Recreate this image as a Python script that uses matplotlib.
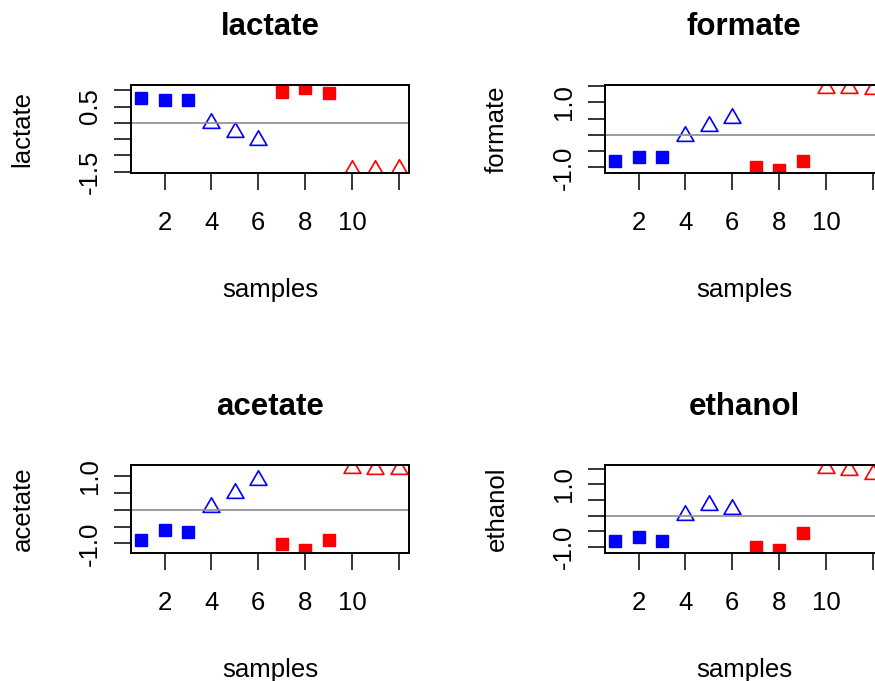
import numpy as np
import matplotlib.pyplot as plt
from matplotlib.path import Path

plt.rcParams['font.family'] = ['Liberation Sans', 'DejaVu Sans']

samples = np.arange(1, 13)
# group of each sample: blue squares, blue triangles, red squares, red triangles
colours = ['#0000ff'] * 6 + ['#ff0000'] * 6
filled = [True] * 3 + [False] * 3 + [True] * 3 + [False] * 3

lactate = [0.75, 0.70, 0.70, 0.00, -0.29, -0.52, 0.95, 1.06, 0.90, -1.44, -1.44, -1.43]
formate = [-0.80, -0.69, -0.69, -0.04, 0.27, 0.51, -0.99, -1.07, -0.80, 1.43, 1.43, 1.42]
acetate = [-0.89, -0.61, -0.67, 0.08, 0.50, 0.90, -1.02, -1.19, -0.89, 1.24, 1.23, 1.23]
ethanol = [-0.80, -0.68, -0.80, 0.02, 0.33, 0.21, -1.01, -1.09, -0.55, 1.52, 1.47, 1.34]

xticks = [2, 4, 6, 8, 10, 12]
xticklabels = ['2', '4', '6', '8', '10', '']

# y ticks and which of them carry a label
yticks = {
    'lactate': ([-1.5, -1.0, -0.5, 0.0, 0.5, 1.0], ['-1.5', '', '', '', '0.5', '']),
    'formate': ([-1.0, -0.5, 0.0, 0.5, 1.0, 1.5], ['-1.0', '', '', '', '1.0', '']),
    'acetate': ([-1.0, -0.5, 0.0, 0.5, 1.0], ['-1.0', '', '', '', '1.0']),
    'ethanol': ([-1.0, -0.5, 0.0, 0.5, 1.0, 1.5], ['-1.0', '', '', '', '1.0', '']),
}

# open triangle like R's pch=2 (centroid on the point)
tri = Path([(0, 1), (-0.866, -0.5), (0.866, -0.5), (0, 1)], closed=True)

W, H = 875, 681
fig = plt.figure(figsize=(W / 100, H / 100), dpi=100)

panels = [('lactate', lactate, 131, 85), ('formate', formate, 605, 85),
          ('acetate', acetate, 131, 465), ('ethanol', ethanol, 605, 465)]

for name, vals, left, top in panels:
    ax = fig.add_axes([left / W, 1 - (top + 88) / H, 278 / W, 88 / H])
    vals = np.array(vals)
    for i in range(len(samples)):
        if filled[i]:
            ax.plot(samples[i], vals[i], ls='none', marker='s', ms=8,
                    color=colours[i], mec=colours[i])
        else:
            ax.plot(samples[i], vals[i], ls='none', marker=tri, ms=14,
                    mfc='none', mec=colours[i], mew=1.2)
    ax.axhline(0, color='#8c8c8c', lw=1.2)
    ax.margins(x=0.04, y=0.04)
    ax.set_xticks(xticks, xticklabels)
    ax.set_yticks(yticks[name][0], yticks[name][1], rotation=90, va='center')
    ax.tick_params(direction='out', length=12.5, width=1.1, labelsize=18.5, colors='black')
    ax.tick_params(axis='x', pad=15)
    ax.tick_params(axis='y', pad=8.5)
    for s in ax.spines.values():
        s.set_linewidth(1.4)
    ax.set_title(name, fontsize=22.5, fontweight='bold', pad=36)
    ax.set_xlabel('samples', fontsize=18.5, va='center')
    ax.xaxis.set_label_coords(0.5, -1.33)
    ax.set_ylabel(name, fontsize=18.5, va='center')
    ax.yaxis.set_label_coords(-108.5 / 278, 0.5)

fig.savefig('out.png', dpi=100)
